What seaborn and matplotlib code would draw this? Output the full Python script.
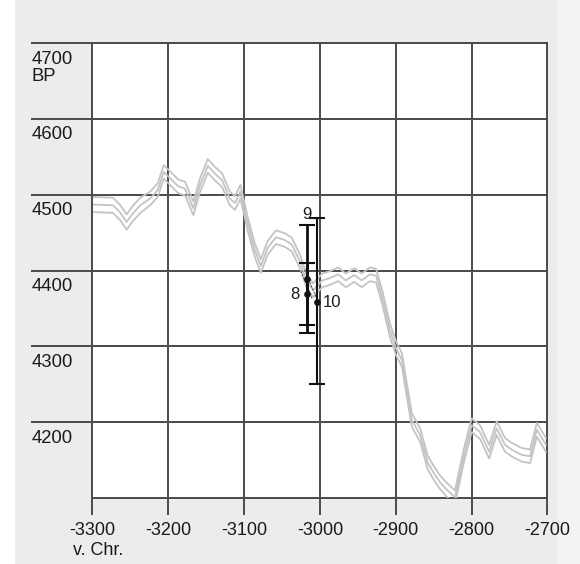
import matplotlib
matplotlib.use("Agg")
import matplotlib.pyplot as plt
from matplotlib.patches import Rectangle
import numpy as np
import pandas as pd
import seaborn as sns

# ---- calibration curve (centre line and 1-sigma half width, BP) ----
cal_year = [-3299, -3273, -3264, -3255, -3247, -3237, -3224, -3214, -3206, -3198,
            -3187, -3178, -3167, -3158, -3148, -3138, -3129, -3119, -3112, -3105,
            -3095, -3086, -3078, -3069, -3058, -3046, -3037, -3026, -3018, -3009,
            -2997, -2987, -2976, -2966, -2955, -2945, -2934, -2926, -2917, -2908,
            -2900, -2892, -2879, -2868, -2858, -2850, -2842, -2833, -2822, -2810,
            -2800, -2789, -2777, -2767, -2756, -2746, -2734, -2723, -2714, -2702]
cal_bp = [4487, 4486, 4477, 4464, 4475, 4486, 4495, 4506, 4530, 4522,
          4511, 4508, 4482, 4513, 4538, 4527, 4519, 4495, 4489, 4504,
          4460, 4427, 4406, 4430, 4444, 4440, 4434, 4411, 4387, 4374,
          4387, 4390, 4395, 4387, 4394, 4387, 4395, 4393, 4361, 4322,
          4298, 4282, 4203, 4183, 4147, 4133, 4121, 4111, 4101, 4157,
          4196, 4187, 4161, 4192, 4170, 4163, 4157, 4155, 4190, 4170]
cal_sigma = [10, 10, 10, 10, 10, 10, 9, 9, 9, 9,
             9, 9, 9, 9, 9, 9, 9, 9, 9, 9,
             9, 9, 9, 9, 9, 9, 9, 9, 9, 9,
             9, 9, 9, 9, 9, 9, 9, 9, 9, 9,
             9, 9, 9, 9, 9, 9, 9, 9, 9, 9,
             9, 9, 9, 9, 9, 9, 9, 9, 9, 9]

# ---- samples (wiggle-match) ----
sample_label = ["8", "9", "10"]
sample_year = [-3017, -3017, -3004]
sample_bp = [4369, 4389, 4358]
sample_lo = [4328, 4318, 4250]
sample_hi = [4410, 4460, 4469]

# dashed guide lines between samples
guide_x0 = [-3025, -3020]
guide_y0 = [4399, 4401]
guide_x1 = [-3010, -3005]
guide_y1 = [4362, 4364]

# ---- axes ticks ----
x_ticks = [-3300, -3200, -3100, -3000, -2900, -2800, -2700]
x_ticklabels = ["-3300", "-3200", "-3100", "-3000", "-2900", "-2800", "-2700"]
y_ticks = [4100, 4200, 4300, 4400, 4500, 4600, 4700]
y_ticklabels = ["", "4200", "4300", "4400", "4500", "4600", "4700\nBP"]
x_unit = "v. Chr."

sns.set_theme(style="white")
plt.rcParams["font.family"] = ["Liberation Sans", "DejaVu Sans"]

W, H = 580, 564
fig = plt.figure(figsize=(W / 100, H / 100), dpi=100)
fig.patch.set_facecolor("#ececec")
fig.patches.append(Rectangle((0, 0), 15 / W, 1, transform=fig.transFigure,
                             facecolor="white", edgecolor="none", zorder=-5))
fig.patches.append(Rectangle((558 / W, 0), 22 / W, 1, transform=fig.transFigure,
                             facecolor="#f3f3f3", edgecolor="none", zorder=-5))

ax = fig.add_axes([92.5 / W, 66 / H, 455 / W, 455 / H])
ax.set_facecolor("white")
ax.set_xlim(-3300, -2700)
ax.set_ylim(4100, 4700)
for s in ax.spines.values():
    s.set_visible(False)
ax.set_xticks([])
ax.set_yticks([])

grid_c = "#4a4a4a"
grid_lw = 1.4
# horizontal grid lines (extend left into label area)
ytr = ax.get_yaxis_transform()
for v in y_ticks:
    x0 = 0.0 if v == y_ticks[0] else -62 / 455
    ax.plot([x0, 1.0], [v, v], transform=ytr, color=grid_c, lw=grid_lw,
            clip_on=False, zorder=1, solid_capstyle="butt")
# vertical grid lines (extend below into tick area)
xtr = ax.get_xaxis_transform()
for v in x_ticks:
    ax.plot([v, v], [-17 / 455, 1.0], transform=xtr, color=grid_c, lw=grid_lw,
            clip_on=False, zorder=1, solid_capstyle="butt")

# y tick labels (below each line, left aligned)
for v, lab in zip(y_ticks, y_ticklabels):
    if lab:
        ax.annotate(lab, xy=(-61 / 455, v), xycoords=ytr, xytext=(0, -5.5),
                    textcoords="offset points", ha="left", va="top",
                    fontsize=13.3, color="#1a1a1a", linespacing=1.0)
# x tick labels
for v, lab in zip(x_ticks, x_ticklabels):
    ax.annotate(lab, xy=(v, 0), xycoords=xtr, xytext=(0, -17.5),
                textcoords="offset points", ha="center", va="top",
                fontsize=13, color="#1a1a1a")
ax.annotate(x_unit, xy=(x_ticks[0], 0), xycoords=xtr, xytext=(4, -32),
            textcoords="offset points", ha="center", va="top",
            fontsize=13, color="#1a1a1a")

# calibration curve: three lines
cy = np.array(cal_year)
cb = np.array(cal_bp)
cs = np.array(cal_sigma)
long = pd.concat([
    pd.DataFrame({"year": cy, "bp": cb + cs, "curve": "upper"}),
    pd.DataFrame({"year": cy, "bp": cb, "curve": "centre"}),
    pd.DataFrame({"year": cy, "bp": cb - cs, "curve": "lower"}),
])
sns.lineplot(data=long, x="year", y="bp", hue="curve", sort=False, estimator=None,
             palette=["#c4c4c4", "#c4c4c4", "#c4c4c4"], legend=False, lw=1.3,
             ax=ax, zorder=2)
ax.set_xlabel("")
ax.set_ylabel("")

# guide dashed lines
for a, b, c, d in zip(guide_x0, guide_y0, guide_x1, guide_y1):
    ax.plot([a, c], [b, d], color="#333333", lw=0.7, ls=(0, (2, 1.5)), zorder=3)

# sample error bars
bar_lw = [2.0, 2.0, 1.5]
for i, lab in enumerate(sample_label):
    y = sample_bp[i]
    ax.errorbar([sample_year[i]], [y], yerr=[[y - sample_lo[i]], [sample_hi[i] - y]],
                fmt="o", ms=3.8, color="#111111", ecolor="#111111",
                elinewidth=bar_lw[i], capsize=6, capthick=1.5, zorder=4)

# sample labels
ax.annotate(sample_label[0], xy=(sample_year[0], sample_bp[0]), xytext=(-9, 0),
            textcoords="offset points", ha="center", va="center", fontsize=12,
            color="#1a1a1a")
ax.annotate(sample_label[1], xy=(sample_year[1], sample_hi[1]), xytext=(0, 7.5),
            textcoords="offset points", ha="center", va="center", fontsize=12,
            color="#1a1a1a")
ax.annotate(sample_label[2], xy=(sample_year[2], sample_bp[2]), xytext=(4, 0),
            textcoords="offset points", ha="left", va="center", fontsize=12,
            color="#1a1a1a")

fig.savefig("out.png", dpi=100, facecolor=fig.get_facecolor())
